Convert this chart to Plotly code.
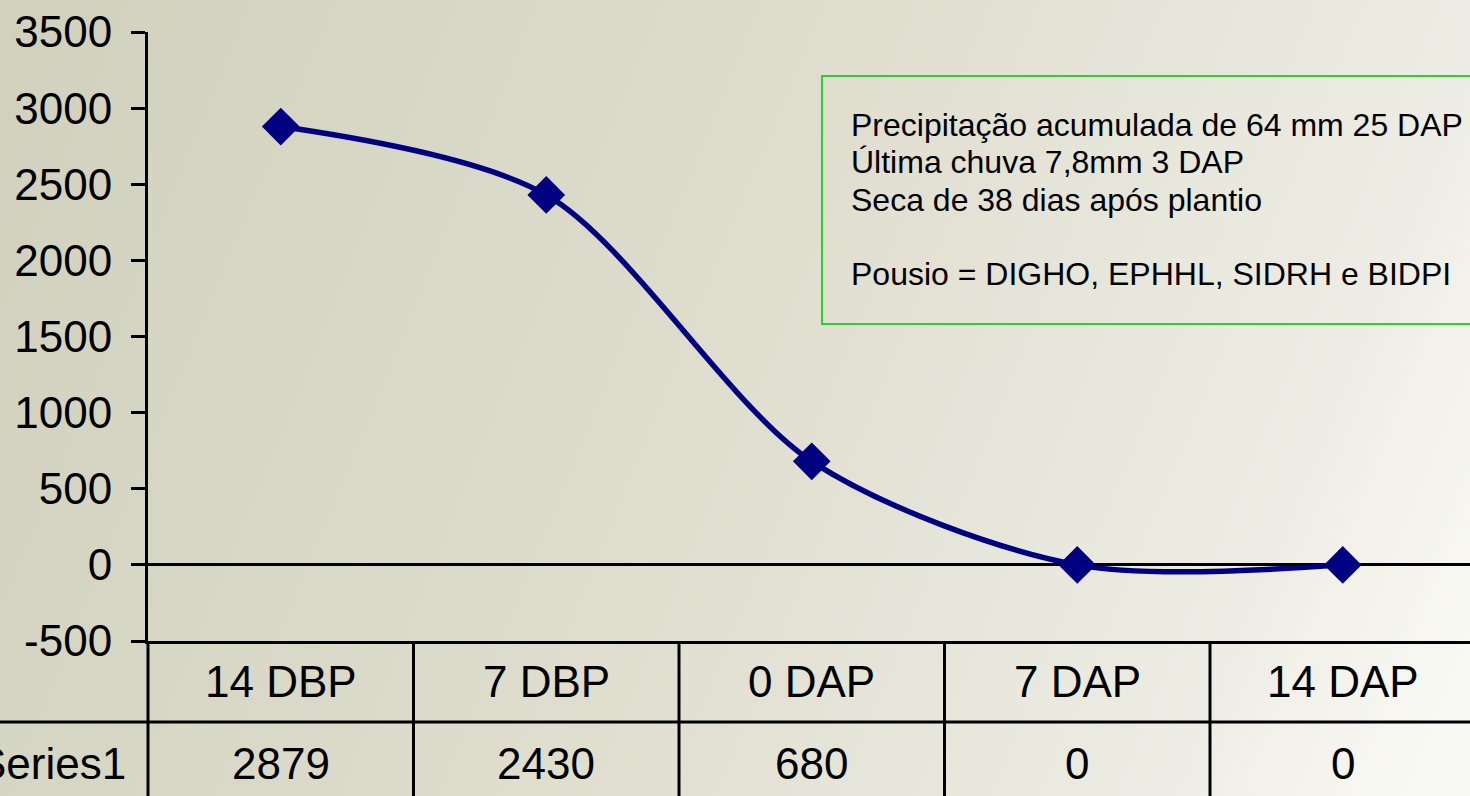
import base64
import plotly.graph_objects as go

# ---- data ----
categories = ["14 DBP", "7 DBP", "0 DAP", "7 DAP", "14 DAP"]
series_name = "Series1"
values = [2879, 2430, 680, 0, 0]
y_ticks = [-500, 0, 500, 1000, 1500, 2000, 2500, 3000, 3500]
y_tick_text = ["-500", "0", "500", "1000", "1500", "2000", "2500", "3000", "3500"]
note_lines = [
    "Precipitação acumulada de 64 mm 25 DAP",
    "Última chuva 7,8mm 3 DAP",
    "Seca de 38 dias após plantio",
    "",
    "Pousio = DIGHO, EPHHL, SIDRH e BIDPI",
]

# ---- geometry ----
W, H = 1470, 796
ML, MR, MT, MB = 148, 0, 32, 155
plot_w = W - ML - MR
plot_h = H - MT - MB
cat_px = 265.5
x_range = [-0.5, -0.5 + plot_w / cat_px]
FONT = "Arial, 'Liberation Sans', sans-serif"
NAVY = "#000080"


def px_x(px):
    return (px - ML) / plot_w


def px_y(py):
    return (H - MB - py) / plot_h


def cat_x(v):
    return (v - x_range[0]) / (x_range[1] - x_range[0])


# soft diagonal background gradient
svg = (
    f'<svg xmlns="http://www.w3.org/2000/svg" width="{W}" height="{H}">'
    '<defs><linearGradient id="g" gradientUnits="userSpaceOnUse" '
    'x1="0" y1="100" x2="1470" y2="700">'
    '<stop offset="0" stop-color="#d1d1be"/>'
    '<stop offset="0.5" stop-color="#dfdecf"/>'
    '<stop offset="0.85" stop-color="#eeede5"/>'
    '<stop offset="1" stop-color="#fafaf5"/>'
    '</linearGradient></defs>'
    '<rect width="100%" height="100%" fill="url(#g)"/></svg>'
)
bg_src = "data:image/svg+xml;base64," + base64.b64encode(svg.encode()).decode()

fig = go.Figure()
fig.add_trace(go.Scatter(
    x=categories, y=values, name=series_name,
    mode="lines+markers",
    line=dict(color=NAVY, width=5.5, shape="spline", smoothing=0.85),
    marker=dict(symbol="diamond", size=29, color=NAVY),
    cliponaxis=False,
    showlegend=False,
))

shapes = []
# data table grid
for b in [-0.5, 0.5, 1.5, 2.5, 3.5]:
    shapes.append(dict(type="line", xref="paper", yref="paper",
                       x0=cat_x(b), x1=cat_x(b), y0=px_y(H + 5), y1=0,
                       line=dict(color="black", width=3)))
shapes.append(dict(type="line", xref="paper", yref="paper",
                   x0=px_x(0), x1=px_x(W + 5), y0=px_y(722), y1=px_y(722),
                   line=dict(color="black", width=3)))
# note box
shapes.append(dict(type="rect", xref="paper", yref="paper",
                   x0=px_x(822), x1=px_x(W + 20), y0=px_y(324), y1=px_y(76),
                   line=dict(color="#33cc33", width=2), fillcolor="rgba(0,0,0,0)"))

annotations = []
for c, v in zip(categories, values):
    annotations.append(dict(x=c, xref="x", y=px_y(681), yref="paper",
                            text=c, showarrow=False, xanchor="center", yanchor="middle",
                            font=dict(family=FONT, size=44, color="black")))
    annotations.append(dict(x=c, xref="x", y=px_y(763), yref="paper",
                            text=str(v), showarrow=False, xanchor="center", yanchor="middle",
                            font=dict(family=FONT, size=44, color="black")))
annotations.append(dict(x=px_x(128), xref="paper", y=px_y(763), yref="paper",
                        text=series_name, showarrow=False, xanchor="right", yanchor="middle",
                        font=dict(family=FONT, size=44, color="black")))
for i, line in enumerate(note_lines):
    if not line:
        continue
    annotations.append(dict(x=px_x(849), xref="paper", y=px_y(125 + i * 37.3), yref="paper",
                            text=line, showarrow=False, xanchor="left", yanchor="middle",
                            font=dict(family=FONT, size=32, color="black")))

fig.update_layout(
    width=W, height=H,
    margin=dict(l=ML, r=MR, t=MT, b=MB, pad=0),
    paper_bgcolor="rgba(0,0,0,0)",
    plot_bgcolor="rgba(0,0,0,0)",
    images=[dict(source=bg_src, xref="paper", yref="paper",
                 x=px_x(0), y=px_y(0), sizex=W / plot_w, sizey=H / plot_h,
                 xanchor="left", yanchor="top", sizing="stretch", layer="below")],
    shapes=shapes,
    annotations=annotations,
    xaxis=dict(type="category", range=x_range, showline=True, linecolor="black",
               linewidth=3, showticklabels=False, ticks="", showgrid=False,
               zeroline=False, fixedrange=True),
    yaxis=dict(range=[-500, 3500], tickvals=y_ticks, ticktext=y_tick_text,
               showline=True, linecolor="black",
               linewidth=3, ticks="outside", ticklen=14, tickwidth=3, tickcolor="black",
               ticklabelstandoff=10,
               tickfont=dict(family=FONT, size=44, color="black"), showgrid=False,
               zeroline=True, zerolinecolor="black", zerolinewidth=3, fixedrange=True),
    showlegend=False,
)

fig.write_html("out.html")
